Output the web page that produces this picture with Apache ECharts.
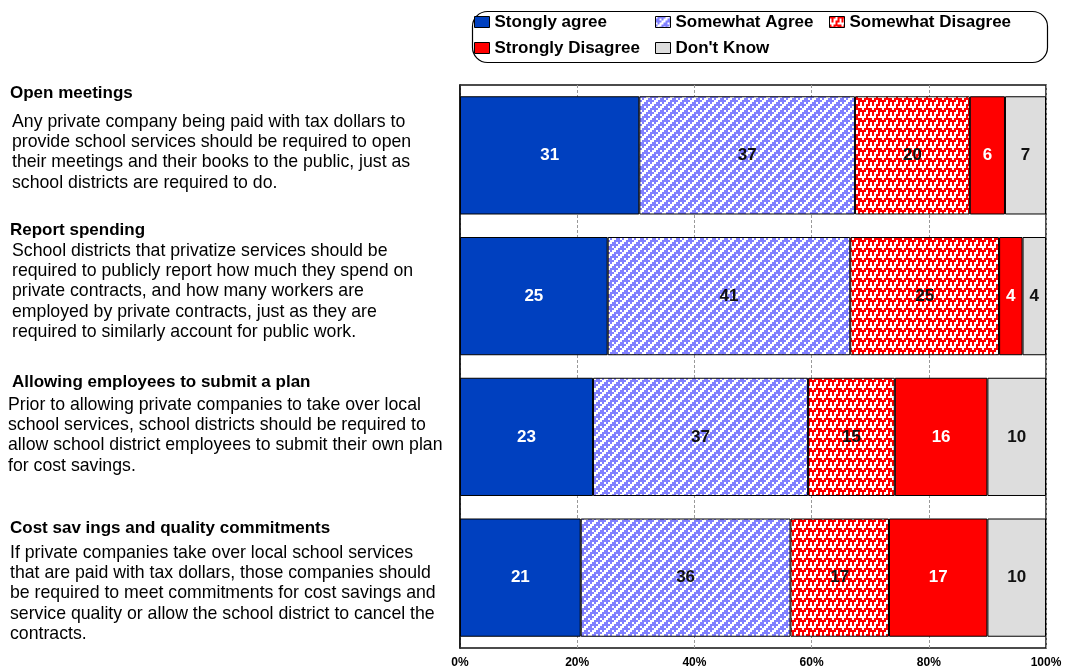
<!DOCTYPE html>
<html>
<head>
<meta charset="utf-8">
<script src="https://cdn.jsdelivr.net/npm/echarts@6/dist/echarts.min.js"></script>
<style>
html,body{margin:0;padding:0;background:#fff;}
#main{width:1065px;height:672px;}
</style>
</head>
<body>
<div id="main"></div>
<script>
// ---- data ----
const categories = ['Open meetings', 'Report spending', 'Allowing employees to submit a plan', 'Cost sav ings and quality commitments'];
const descriptions = [
  ['Any private company being paid with tax dollars to', 'provide school services should be required to open', 'their meetings and their books to the public, just as', 'school districts are required to do.'],
  ['School districts that privatize services should be', 'required to publicly report how much they spend on', 'private contracts, and how many workers are', 'employed by private contracts, just as they are', 'required to similarly account for public work.'],
  ['Prior to allowing private companies to take over local', 'school services, school districts should be required to', 'allow school district employees to submit their own plan', 'for cost savings.'],
  ['If private companies take over local school services', 'that are paid with tax dollars, those companies should', 'be required to meet commitments for cost savings and', 'service quality or allow the school district to cancel the', 'contracts.']
];
const seriesNames = ['Stongly agree', 'Somewhat Agree', 'Somewhat Disagree', 'Strongly Disagree', "Don't Know"];
const stronglyAgree = [30.6, 25.2, 22.7, 20.6];
const somewhatAgree = [36.8, 41.4, 36.7, 35.8];
const somewhatDisagree = [19.6, 25.4, 14.8, 16.8];
const stronglyDisagree = [6.0, 4.0, 15.8, 16.8];
const dontKnow = [7.0, 4.0, 10.0, 10.0];
const xTickLabels = ['0%', '20%', '40%', '60%', '80%', '100%'];

// ---- layout (not data) ----
const titleLayout = [{x: 10, y: 95}, {x: 10, y: 232}, {x: 12, y: 384}, {x: 10, y: 530}];
const bodyLayout = [{x: 12, y: 122}, {x: 12, y: 251}, {x: 8, y: 405}, {x: 10, y: 553}];
const bodyLineHeight = 20.3;

// ---- patterns ----
function makePattern(rows, fg, bg, scale) {
  const c = document.createElement('canvas');
  c.width = rows[0].length * scale; c.height = rows.length * scale;
  const ctx = c.getContext('2d');
  ctx.fillStyle = bg; ctx.fillRect(0, 0, c.width, c.height);
  ctx.fillStyle = fg;
  rows.forEach((r, y) => { for (let x = 0; x < r.length; x++) if (r[x] === '#') ctx.fillRect(x * scale, y * scale, scale, scale); });
  return {image: c, repeat: 'repeat'};
}
const purplePattern = makePattern([
  '#....#',
  '..#.##',
  '...##.',
  '#.##..',
  '.##...',
  '##..#.'
], '#ffffff', '#8080ff', 2);
const redPattern = makePattern([
  '###.#',
  '.#..#',
  '.#.##',
  '...#.',
  '#.###'
], '#ff0000', '#ffffff', 2);

const colors = ['#0040bf', purplePattern, redPattern, '#ff0000', '#dddddd'];
const labelColors = ['#ffffff', '#111111', '#111111', '#ffffff', '#111111'];
const allValues = [stronglyAgree, somewhatAgree, somewhatDisagree, stronglyDisagree, dontKnow];

const series = seriesNames.map((name, i) => ({
  name: name,
  type: 'bar',
  stack: 'total',
  data: allValues[i],
  barCategoryGap: '16%',
  itemStyle: {color: colors[i], borderColor: '#000', borderWidth: 1},
  label: {
    show: true,
    position: 'inside',
    formatter: p => String(Math.round(p.value)),
    color: labelColors[i],
    fontFamily: 'Liberation Sans, Arial, sans-serif',
    fontWeight: 'bold',
    fontSize: 17
  },
  emphasis: {disabled: true}
}));

const graphics = [];
categories.forEach((t, i) => {
  graphics.push({
    type: 'text', left: titleLayout[i].x, top: titleLayout[i].y - 10, z: -10,
    style: {text: t, font: 'bold 17px "Liberation Sans", Arial, sans-serif', fill: '#000'}
  });
  graphics.push({
    type: 'text', left: bodyLayout[i].x, top: bodyLayout[i].y - bodyLineHeight / 2, z: -10,
    style: {text: descriptions[i].join('\n'), font: '17.7px "Liberation Sans", Arial, sans-serif', lineHeight: bodyLineHeight, fill: '#000'}
  });
});
graphics.push({
  type: 'rect', left: 470, top: 9, z: 0,
  shape: {width: 575, height: 51, r: 15},
  style: {fill: 'none', stroke: '#000', lineWidth: 1.2}
});

const legendCommon = {
  orient: 'vertical',
  top: 12,
  padding: 0,
  itemWidth: 15,
  itemHeight: 11,
  itemGap: 6,
  icon: 'rect',
  selectedMode: false,
  itemStyle: {borderColor: '#000', borderWidth: 1},
  textStyle: {fontFamily: 'Liberation Sans, Arial, sans-serif', fontWeight: 'bold', fontSize: 17, color: '#000', lineHeight: 20}
};

const option = {
  backgroundColor: '#fff',
  animation: false,
  legend: [
    Object.assign({}, legendCommon, {left: 474, data: [seriesNames[0], seriesNames[3]]}),
    Object.assign({}, legendCommon, {left: 655, data: [seriesNames[1], seriesNames[4]]}),
    Object.assign({}, legendCommon, {left: 829, data: [seriesNames[2]]})
  ],
  grid: {left: 460, right: 19, top: 85, bottom: 24, show: true, borderColor: '#111', borderWidth: 1.5, backgroundColor: '#fff', containLabel: false},
  xAxis: {
    type: 'value', min: 0, max: 100, interval: 20,
    axisLine: {show: false}, axisTick: {show: false},
    axisLabel: {
      formatter: v => xTickLabels[Math.round(v / 20)],
      fontFamily: 'Liberation Sans, Arial, sans-serif', fontWeight: 'bold', fontSize: 12, color: '#000', margin: 9
    },
    splitLine: {show: true, lineStyle: {color: '#999', type: [3, 2], width: 1}}
  },
  yAxis: {
    type: 'category', data: categories, inverse: true,
    axisLabel: {show: false}, axisTick: {show: false},
    axisLine: {show: true, lineStyle: {color: '#111', width: 1.5}}
  },
  graphic: graphics,
  series: series
};

const chart = echarts.init(document.getElementById('main'), null, {renderer: 'canvas'});
chart.setOption(option);
</script>
</body>
</html>
